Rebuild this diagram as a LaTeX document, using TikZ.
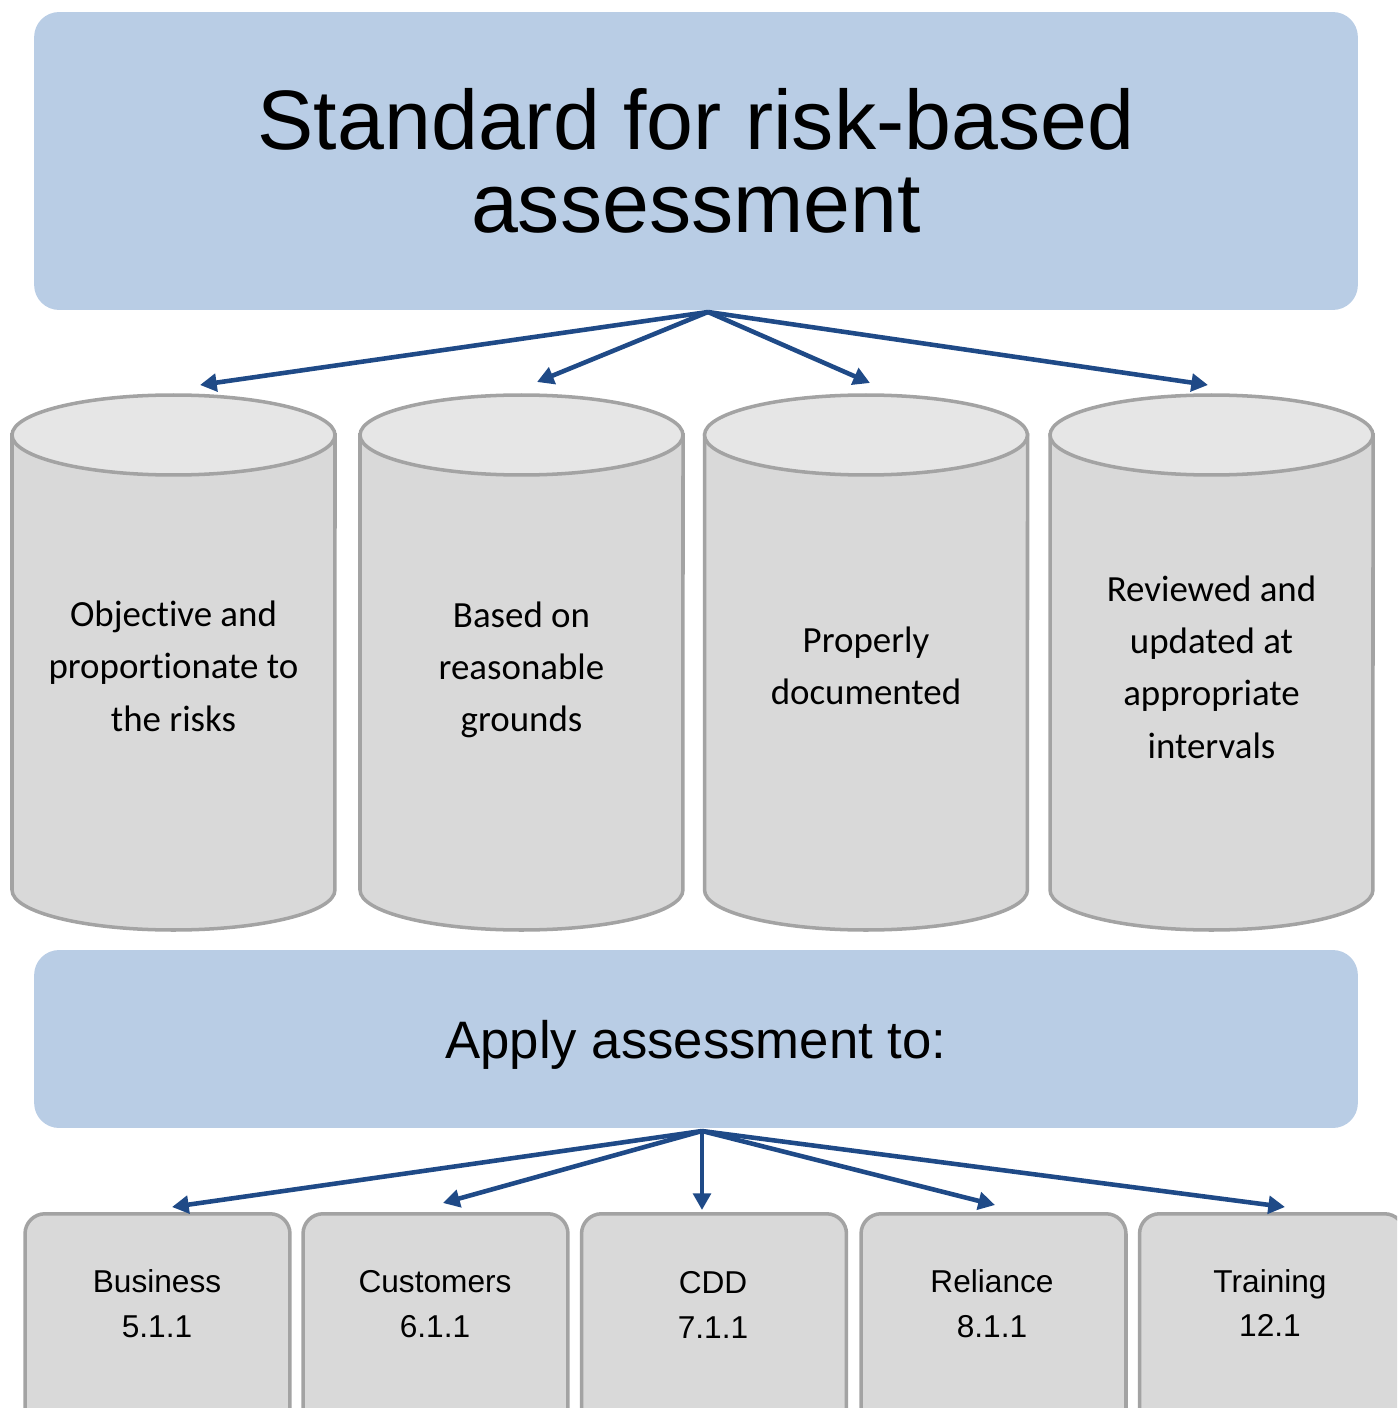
\documentclass[tikz,border=0pt]{standalone}
\usepackage{fontspec}
\setmainfont{Liberation Sans}
\newfontfamily\cylfont[Ligatures=NoCommon]{Carlito}
\usetikzlibrary{arrows.meta, positioning}
\definecolor{bannerblue}{HTML}{B9CDE5}
\definecolor{arrowblue}{HTML}{1F4A87}
\definecolor{cylgray}{HTML}{D9D9D9}
\definecolor{lidgray}{HTML}{E6E6E6}
\definecolor{edgegray}{HTML}{A3A3A3}
\tikzstyle{banner} = [rectangle, rounded corners=0.5cm, fill=bannerblue, minimum width=26.48cm, text centered, align=center]
\tikzstyle{cylbody} = [fill=cylgray, draw=edgegray, line width=2pt]
\tikzstyle{cyllid} = [fill=lidgray, draw=edgegray, line width=2pt]
\tikzstyle{cyltext} = [align=center, font=\cylfont\fontsize{21}{29.8}\selectfont]
\tikzstyle{section} = [rectangle, rounded corners=0.4cm, fill=cylgray, draw=edgegray, line width=2pt, minimum width=5.3cm, minimum height=4.3cm, anchor=north]
\tikzstyle{sectext} = [align=center, font=\fontsize{18}{25.5}\selectfont]
\tikzstyle{arrow} = [arrowblue, line width=2.6pt, -{Triangle[length=9.5pt,width=10pt]}]

\begin{document}
\begin{tikzpicture}[x=0.02cm, y=-0.02cm]
    \useasboundingbox (0,0) rectangle (1397,1408);
    \clip (0,0) rectangle (1397,1408);

    \node (std) [banner, minimum height=5.96cm, font=\fontsize{48}{47.6}\selectfont] at (696,161) {Standard for risk-based\\assessment};

    % cylinders
    \foreach \cx in {173.5,521.5,866,1211.5} {
        \filldraw[cylbody] (\cx-161.5,435) -- (\cx-161.5,890) arc[start angle=180, end angle=360, x radius=3.23cm, y radius=0.8cm] -- (\cx+161.5,435) -- cycle;
        \filldraw[cyllid] (\cx,435) ellipse[x radius=3.23cm, y radius=0.8cm];
    }
    \node (obj) [cyltext] at (173.5,666) {Objective and\\proportionate to\\the risks};
    \node (reason) [cyltext] at (521.5,670) {Based on\\reasonable\\grounds};
    \node (doc) [cyltext] at (866,666) {Properly\\documented};
    \node (review) [cyltext] at (1211.5,667) {Reviewed and\\updated at\\appropriate\\intervals};

    \node (apply) [banner, minimum height=3.56cm, font=\fontsize{30}{36}\selectfont, text depth=0pt] at (696,1039) {Apply assessment to:};

    \node (biz) [section] at (157.5,1212) {};
    \node (cust) [section] at (435.5,1212) {};
    \node (cdd) [section] at (714,1212) {};
    \node (rel) [section] at (993.5,1212) {};
    \node (train) [section] at (1272,1212) {};
    \node (biztext) [sectext] at (157,1304) {Business\\5.1.1};
    \node (custtext) [sectext] at (435,1304) {Customers\\6.1.1};
    \node (cddtext) [sectext] at (713,1305) {CDD\\7.1.1};
    \node (reltext) [sectext] at (992,1304) {Reliance\\8.1.1};
    \node (traintext) [sectext] at (1270,1303) {Training\\12.1};

    % arrow ends
    \coordinate (topfork) at (708,312);
    \coordinate (objtip) at (200,385);
    \coordinate (reasontip) at (537,382);
    \coordinate (doctip) at (870,383);
    \coordinate (reviewtip) at (1208,385);
    \coordinate (botfork) at (702,1131);
    \coordinate (biztip) at (172,1207);
    \coordinate (custtip) at (443,1203);
    \coordinate (cddtip) at (702,1210);
    \coordinate (reltip) at (995,1205);
    \coordinate (traintip) at (1285,1207);

    \draw [arrow] (topfork) -- (objtip);
    \draw [arrow] (topfork) -- (reasontip);
    \draw [arrow] (topfork) -- (doctip);
    \draw [arrow] (topfork) -- (reviewtip);
    \draw [arrow] (botfork) -- (biztip);
    \draw [arrow] (botfork) -- (custtip);
    \draw [arrow] (botfork) -- (cddtip);
    \draw [arrow] (botfork) -- (reltip);
    \draw [arrow] (botfork) -- (traintip);
\end{tikzpicture}
\end{document}
